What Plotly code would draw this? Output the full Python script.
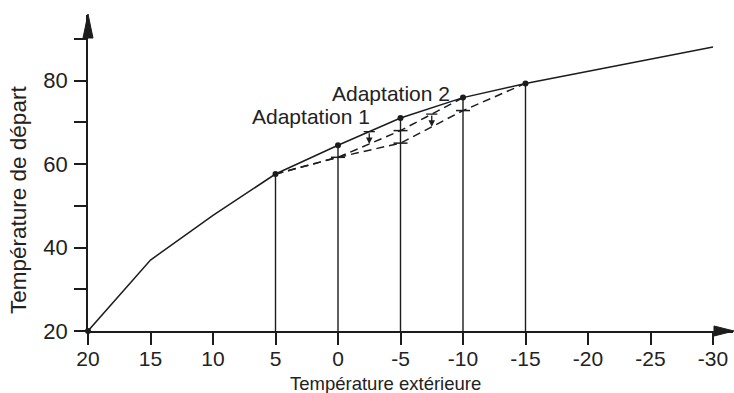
import plotly.graph_objects as go

# ---- data ----
t_ext = [20, 15, 10, 5, 0, -5, -10, -15, -30]          # outdoor temperature
t_dep = [20, 37.0, 47.7, 57.6, 64.5, 71.0, 75.9, 79.3, 88.0]  # flow temperature

dot_x = [20, 5, 0, -5, -10, -15]
vline_x = [5, 0, -5, -10, -15]

dash_a_x = [5, 0, -5, -10]
dash_a_y = [57.6, 61.6, 68.0, 75.9]
dash_b_x = [5, 0, -5, -10, -15]
dash_b_y = [57.6, 61.6, 65.0, 72.8, 79.3]

cross_x = [0, -5, -5, -10]
cross_y = [61.6, 68.0, 65.0, 72.8]

shift_x = [-2.5, -7.5]
shift_from = [67.75, 71.95]
shift_to = [64.8, 68.9]

x_ticks = [20, 15, 10, 5, 0, -5, -10, -15, -20, -25, -30]
y_ticks = [20, 30, 40, 50, 60, 70, 80, 90]
y_labels = ["20", "", "40", "", "60", "", "80", ""]

labels = ["Adaptation 1", "Adaptation 2"]
label_x = [-2.75, -9.15]
label_y = [71.3, 76.8]

LC = "#1c1c1c"
FONT = "Liberation Sans, Arial, sans-serif"

lookup = dict(zip(t_ext, t_dep))

fig = go.Figure()

# vertical lines
for v in vline_x:
    fig.add_trace(go.Scatter(x=[v, v], y=[20, lookup[v]], mode="lines",
                             line=dict(color=LC, width=1.4), hoverinfo="skip"))

# dashed adaptation lines
for xs, ys in [(dash_a_x, dash_a_y), (dash_b_x, dash_b_y)]:
    fig.add_trace(go.Scatter(x=xs, y=ys, mode="lines",
                             line=dict(color=LC, width=1.5, dash="8px,5px")))

# main curve
fig.add_trace(go.Scatter(x=t_ext, y=t_dep, mode="lines",
                         line=dict(color=LC, width=1.5)))

# dots
fig.add_trace(go.Scatter(x=dot_x, y=[lookup[v] for v in dot_x], mode="markers",
                         marker=dict(color=LC, size=6), cliponaxis=False))

# crosses on the verticals
fig.add_trace(go.Scatter(x=cross_x, y=cross_y, mode="markers",
                         marker=dict(symbol="line-ew", size=10,
                                     line=dict(color=LC, width=1.5))))

# small bars at top of the shift arrows
fig.add_trace(go.Scatter(x=shift_x, y=shift_from, mode="markers",
                         marker=dict(symbol="line-ew", size=8,
                                     line=dict(color=LC, width=1.3))))

annotations = []
for sx, sf, st in zip(shift_x, shift_from, shift_to):
    annotations.append(dict(x=sx, y=st, ax=sx, ay=sf, xref="x", yref="y",
                            axref="x", ayref="y", showarrow=True, arrowhead=2,
                            arrowsize=1, arrowwidth=1.3, arrowcolor=LC, text=""))

for t, lx, ly in zip(labels, label_x, label_y):
    annotations.append(dict(x=lx, y=ly, xref="x", yref="y", text=t, showarrow=False,
                            xanchor="right", yanchor="middle",
                            font=dict(family=FONT, size=21, color="#222")))

# axis titles (positions given in pixels, converted below)
annotations.append(dict(x=385, y=383, text="Température extérieure",
                        showarrow=False, font=dict(family=FONT, size=18.5, color="#222")))
annotations.append(dict(x=18, y=200, text="Température de départ", textangle=-90,
                        showarrow=False, font=dict(family=FONT, size=22.5, color="#222")))

W, H = 734, 393
L, R, T, B = 88, 1, 15, 62
pw, ph = W - L - R, H - T - B

def px2paper(px, py):
    return (px - L) / pw, (H - B - py) / ph

for a in annotations[-2:]:
    a["xref"] = "paper"
    a["yref"] = "paper"
    a["x"], a["y"] = px2paper(a["x"], a["y"])
    a["xanchor"] = "center"
    a["yanchor"] = "middle"

def tri(p1, p2, p3):
    pts = [px2paper(*p) for p in (p1, p2, p3)]
    return "M {} {} L {} {} L {} {} Z".format(pts[0][0], pts[0][1], pts[1][0], pts[1][1], pts[2][0], pts[2][1])

shapes = [
    dict(type="path", xref="paper", yref="paper", path=tri((88, 14), (83, 38), (93, 38)),
         fillcolor=LC, line=dict(color=LC, width=1)),
    dict(type="path", xref="paper", yref="paper", path=tri((734, 331), (714, 326), (714, 336)),
         fillcolor=LC, line=dict(color=LC, width=1)),
]

x_range = [20, 20 - pw / 12.5]
y_range = [20, 20 + ph / 4.175]

fig.update_layout(
    width=W, height=H, margin=dict(l=L, r=R, t=T, b=B),
    paper_bgcolor="white", plot_bgcolor="white", showlegend=False,
    annotations=annotations, shapes=shapes,
    xaxis=dict(range=x_range, tickvals=x_ticks, ticktext=[str(v) for v in x_ticks],
               showgrid=False, zeroline=False, showline=True, linecolor=LC, linewidth=1.5,
               ticks="outside", ticklen=12, tickwidth=1.5, tickcolor=LC,
               ticklabelstandoff=-4,
               tickfont=dict(family=FONT, size=21, color="#222")),
    yaxis=dict(range=y_range, tickvals=y_ticks, ticktext=y_labels,
               showgrid=False, zeroline=False, showline=True, linecolor=LC, linewidth=1.5,
               ticks="outside", ticklen=12, tickwidth=1.5, tickcolor=LC,
               ticklabelstandoff=2,
               tickfont=dict(family=FONT, size=22, color="#222")),
)

fig.write_html("out.html")
